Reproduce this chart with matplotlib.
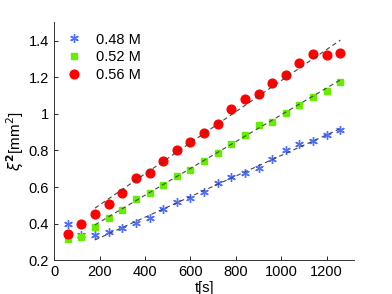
import numpy as np
import matplotlib
matplotlib.use("Agg")
import matplotlib.pyplot as plt
from matplotlib.ticker import FormatStrFormatter

plt.rcParams['font.family'] = ['Liberation Sans', 'DejaVu Sans']

# time points [s]
t = [60, 120, 180, 240, 300, 360, 420, 480, 540, 600, 660,
     720, 780, 840, 900, 960, 1020, 1080, 1140, 1200, 1260]

# xi^2 [mm^2] for each concentration
xi_048 = [0.401, 0.339, 0.339, 0.354, 0.376, 0.403, 0.432, 0.479, 0.516, 0.543, 0.574,
          0.623, 0.655, 0.675, 0.704, 0.752, 0.802, 0.836, 0.852, 0.882, 0.911]
xi_052 = [0.316, 0.329, 0.383, 0.429, 0.476, 0.536, 0.568, 0.612, 0.661, 0.696, 0.742,
          0.784, 0.833, 0.884, 0.939, 0.957, 1.006, 1.051, 1.093, 1.124, 1.175]
xi_056 = [0.342, 0.398, 0.452, 0.507, 0.567, 0.650, 0.679, 0.742, 0.802, 0.847, 0.897,
          0.944, 1.026, 1.080, 1.107, 1.167, 1.211, 1.276, 1.327, 1.324, 1.335]

labels = ['0.48 M', '0.52 M', '0.56 M']

# linear fits (slope, intercept) drawn over the fit range
fit_slope = [0.000563, 0.000733, 0.000850]
fit_icpt = [0.210, 0.262, 0.332]
fit_range = [180, 1260]

fig = plt.figure(figsize=(3.92, 2.94), dpi=100)
ax = fig.add_axes([0.138, 0.1146, 0.765, 0.8094])

ax.plot(t, xi_048, linestyle='none', marker=(6, 2, 0), ms=6.2, mew=1.0,
        color='#4f6fff', label=labels[0])
ax.plot(t, xi_052, linestyle='none', marker='s', ms=4.9,
        color='#66ee00', label=labels[1])
ax.plot(t, xi_056, linestyle='none', marker='o', ms=6.3,
        color='#ff0000', label=labels[2])

tf = np.array(fit_range, dtype=float)
for s, b in zip(fit_slope, fit_icpt):
    ax.plot(tf, s * tf + b, linestyle=(0, (4, 3)), color='#444444', lw=0.8)

ax.set_xlim(0, 1320)
ax.set_ylim(0.2, 1.5)
ax.set_xticks(np.arange(0, 1201, 200))
ax.set_yticks(np.arange(0.2, 1.41, 0.2))
ax.yaxis.set_major_formatter(FormatStrFormatter('%g'))
ax.tick_params(direction='in', length=3, labelsize=10.5, width=0.6)
ax.spines['top'].set_visible(False)
ax.spines['right'].set_visible(False)
for sp in ['left', 'bottom']:
    ax.spines[sp].set_color('#333333')
    ax.spines[sp].set_linewidth(0.7)

ax.set_xlabel('t[s]', fontsize=10.5, labelpad=1)
ax.set_ylabel(r'$\xi^{\mathbf{2}}$[mm$^2$]', fontsize=11, labelpad=2)

ax.legend(loc='upper left', frameon=False, fontsize=10.5, handletextpad=0.5,
          borderaxespad=0.3, labelspacing=0.25, bbox_to_anchor=(-0.015, 1.0))

fig.savefig('out.png', dpi=100)
